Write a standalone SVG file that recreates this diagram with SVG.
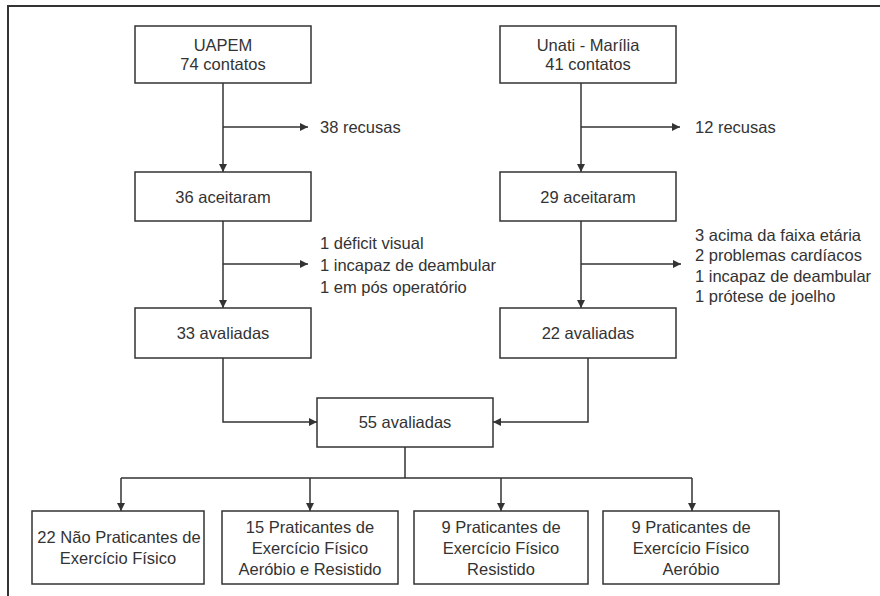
<svg xmlns="http://www.w3.org/2000/svg" width="880" height="596" viewBox="0 0 880 596">
<style>
.box{fill:#fff;stroke:#333;stroke-width:1.5}
.t{font-family:"Liberation Sans",Arial,sans-serif;font-size:16.5px;fill:#333}
.m{text-anchor:middle}
.c{fill:none;stroke:#333;stroke-width:1.5}
</style>
<defs>
<marker id="ar" markerUnits="userSpaceOnUse" markerWidth="9" markerHeight="8" refX="8" refY="4" orient="auto">
<path d="M0,0 L8,4 L0,8 z" fill="#333"/>
</marker>
</defs>
<rect width="880" height="596" fill="#fff"/>
<path d="M8,596 V6 H880" fill="none" stroke="#333" stroke-width="2"/>
<g id="connectors">
<path class="c" d="M223,83 V172" marker-end="url(#ar)"/>
<path class="c" d="M223,127 H308" marker-end="url(#ar)"/>
<path class="c" d="M581,83 V172" marker-end="url(#ar)"/>
<path class="c" d="M581,127 H680" marker-end="url(#ar)"/>
<path class="c" d="M223,221 V308" marker-end="url(#ar)"/>
<path class="c" d="M223,264 H308" marker-end="url(#ar)"/>
<path class="c" d="M581,221 V308" marker-end="url(#ar)"/>
<path class="c" d="M581,264 H681" marker-end="url(#ar)"/>
<path class="c" d="M223,358 V422 H317" marker-end="url(#ar)"/>
<path class="c" d="M588,358 V422 H493" marker-end="url(#ar)"/>
<path class="c" d="M405,447 V478 M121,478 H692"/>
<path class="c" d="M121,478 V511" marker-end="url(#ar)"/>
<path class="c" d="M310,478 V511" marker-end="url(#ar)"/>
<path class="c" d="M501,478 V511" marker-end="url(#ar)"/>
<path class="c" d="M692,478 V511" marker-end="url(#ar)"/>
</g>
<g id="uapem"><rect class="box" x="135" y="26" width="176" height="57"/>
<text class="t m" x="223" y="51">UAPEM</text><text class="t m" x="223" y="70">74 contatos</text></g>
<g id="unati"><rect class="box" x="500" y="26" width="176" height="57"/>
<text class="t m" x="588" y="51">Unati - Marília</text><text class="t m" x="588" y="70">41 contatos</text></g>
<g id="recusas1"><text class="t" x="320" y="133">38 recusas</text></g>
<g id="recusas2"><text class="t" x="695" y="133">12 recusas</text></g>
<g id="aceitaram1"><rect class="box" x="135" y="172" width="176" height="49"/>
<text class="t m" x="223" y="202.5">36 aceitaram</text></g>
<g id="aceitaram2"><rect class="box" x="500" y="172" width="176" height="49"/>
<text class="t m" x="588" y="202.5">29 aceitaram</text></g>
<g id="excl1"><text class="t" x="320" y="249">1 déficit visual</text><text class="t" x="320" y="271">1 incapaz de deambular</text><text class="t" x="320" y="293">1 em pós operatório</text></g>
<g id="excl2"><text class="t" x="695" y="241">3 acima da faixa etária</text><text class="t" x="695" y="261">2 problemas cardíacos</text><text class="t" x="695" y="282">1 incapaz de deambular</text><text class="t" x="695" y="302">1 prótese de joelho</text></g>
<g id="avaliadas1"><rect class="box" x="135" y="308" width="176" height="50"/>
<text class="t m" x="223" y="339">33 avaliadas</text></g>
<g id="avaliadas2"><rect class="box" x="500" y="308" width="176" height="50"/>
<text class="t m" x="588" y="339">22 avaliadas</text></g>
<g id="total"><rect class="box" x="317" y="398" width="176" height="49"/>
<text class="t m" x="405" y="428">55 avaliadas</text></g>
<g id="g1"><rect class="box" x="32" y="511" width="172" height="73"/>
<text class="t m" x="119" y="543">22 Não Praticantes de</text><text class="t m" x="118" y="564">Exercício Físico</text></g>
<g id="g2"><rect class="box" x="222" y="511" width="176" height="73"/>
<text class="t m" x="310" y="533">15 Praticantes de</text><text class="t m" x="310" y="554">Exercício Físico</text><text class="t m" x="310" y="574.5">Aeróbio e Resistido</text></g>
<g id="g3"><rect class="box" x="414" y="511" width="174" height="73"/>
<text class="t m" x="501" y="533">9 Praticantes de</text><text class="t m" x="501" y="554">Exercício Físico</text><text class="t m" x="501" y="574.5">Resistido</text></g>
<g id="g4"><rect class="box" x="603" y="511" width="176" height="73"/>
<text class="t m" x="691" y="533">9 Praticantes de</text><text class="t m" x="691" y="554">Exercício Físico</text><text class="t m" x="691" y="574.5">Aeróbio</text></g>
</svg>
